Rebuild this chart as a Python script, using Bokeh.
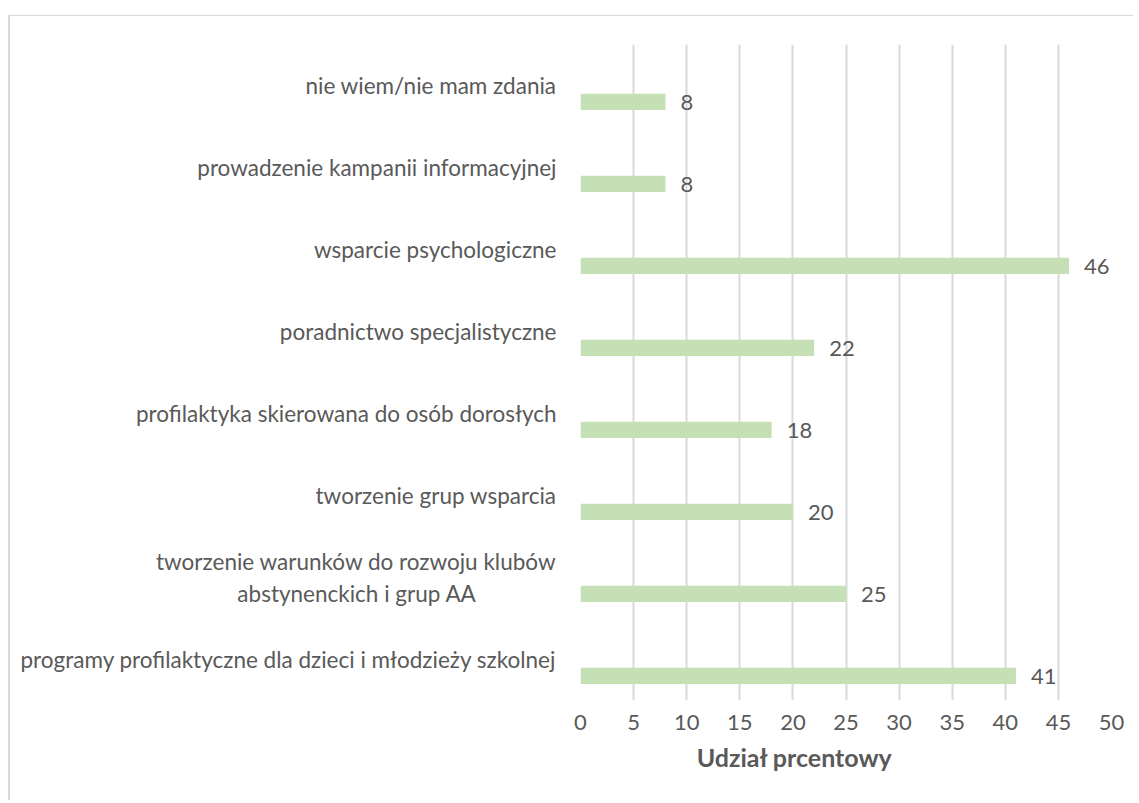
from bokeh.plotting import figure
from bokeh.models import ColumnDataSource, FactorRange, Range1d, FixedTicker
from bokeh.transform import dodge
from bokeh.embed import file_html
from bokeh.resources import INLINE
from bokeh.core.properties import value

# Data (top to bottom as shown)
categories = [
    "nie wiem/nie mam zdania",
    "prowadzenie kampanii informacyjnej",
    "wsparcie psychologiczne",
    "poradnictwo specjalistyczne",
    "profilaktyka skierowana do osób dorosłych",
    "tworzenie grup wsparcia",
    "tworzenie warunków do rozwoju klubów\nabstynenckich i grup AA" + "\u00a0" * 14,
    "programy profilaktyczne dla dzieci i młodzieży szkolnej",
]
values = [8, 8, 46, 22, 18, 20, 25, 41]
x_ticks = [0, 5, 10, 15, 20, 25, 30, 35, 40, 45, 50]
x_title = "Udział prcentowy"

FONT = "Lato"
TXT = "#595959"
GRID = "#D9D9D9"
BAR = "#C5E0B4"

factors = list(reversed(categories))
src = ColumnDataSource(dict(cat=categories, val=values, lab=[str(v) for v in values]))

p = figure(
    y_range=FactorRange(*factors, range_padding=0),
    x_range=Range1d(0, 50),
    width=1125, height=785,
    min_border_left=570, min_border_right=24, min_border_top=28, min_border_bottom=101,
    output_backend="svg", toolbar_location=None,
)
p.margin = (15, 0, 0, 8)
p.styles = {"border-left": "2px solid #D9D9D9", "border-top": "1px solid #D9D9D9"}
p.outline_line_color = None

p.hbar(y=dodge("cat", -0.2, range=p.y_range), left=0, right="val", height=0.2,
       source=src, fill_color=BAR, line_color=None)
p.text(x="val", y=dodge("cat", -0.2, range=p.y_range), text="lab", source=src,
       x_offset=15, y_offset=1, text_align="left", text_baseline="middle",
       text_font=value(FONT), text_font_size="22px", text_color=TXT)

p.xaxis.ticker = FixedTicker(ticks=x_ticks)
p.xaxis.axis_line_color = None
p.xaxis.major_tick_line_color = None
p.xaxis.minor_tick_line_color = None
p.xaxis.major_label_text_font = FONT
p.xaxis.major_label_text_font_size = "22px"
p.xaxis.major_label_text_color = TXT
p.xaxis.major_label_standoff = 8
p.xaxis.axis_label = x_title + "\u00a0" * 17
p.xaxis.axis_label_text_font = FONT
p.xaxis.axis_label_text_font_size = "25px"
p.xaxis.axis_label_text_font_style = "bold"
p.xaxis.axis_label_text_color = TXT
p.xaxis.axis_label_standoff = 9

p.yaxis.axis_line_color = None
p.yaxis.major_tick_line_color = None
p.yaxis.minor_tick_line_color = None
p.yaxis.major_label_text_font = FONT
p.yaxis.major_label_text_font_size = "22.5px"
p.yaxis.major_label_text_color = TXT
p.yaxis.major_label_standoff = 18

p.xgrid.grid_line_color = GRID
p.xgrid.grid_line_width = 2
p.ygrid.grid_line_color = None

open("out.html", "w").write(file_html(p, INLINE))
